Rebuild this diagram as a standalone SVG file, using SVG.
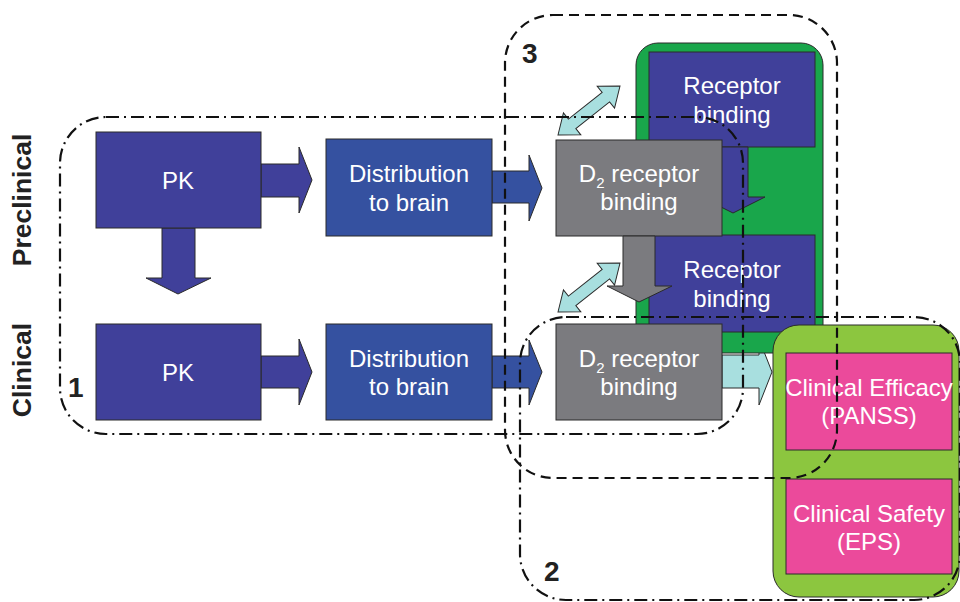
<svg xmlns="http://www.w3.org/2000/svg" width="960" height="602" viewBox="0 0 960 602">
  <style>
    .box { stroke: #2a2a2a; stroke-width: 1; }
    .pk { fill: #40409a; }
    .dist { fill: #3551a0; }
    .d2 { fill: #7b7b7f; }
    .rec { fill: #40409a; }
    .pink { fill: #eb4a9b; }
    .lb { fill: #a8dfdf; stroke: #2a2a2a; stroke-width: 1; }
    .txt { font-family: "Liberation Sans", Arial, sans-serif; font-size: 24px; fill: #ffffff; text-anchor: middle; }
    .sub { font-size: 15px; }
    .side { font-family: "Liberation Sans", Arial, sans-serif; font-size: 26.5px; font-weight: bold; fill: #222222; text-anchor: middle; }
    .num { font-family: "Liberation Sans", Arial, sans-serif; font-size: 28px; font-weight: bold; fill: #222222; }
    .dashdot { fill: none; stroke: #111111; stroke-width: 2.2; stroke-dasharray: 13 5 2 5; }
    .dashed { fill: none; stroke: #111111; stroke-width: 2.2; stroke-dasharray: 10 6; }
  </style>

  <!-- side labels -->
  <text class="side" transform="translate(31,200) rotate(-90)">Preclinical</text>
  <text class="side" transform="translate(31,370) rotate(-90)">Clinical</text>

  <g id="connectors">
    <!-- PK -> Distribution (preclinical) -->
    <polygon class="box pk" points="261,164 299,164 299,147 312,180 299,213 299,197 261,197"/>
    <!-- PK -> Distribution (clinical) -->
    <polygon class="box pk" points="261,356 299,356 299,339 312,372 299,405 299,388 261,388"/>
    <!-- preclinical PK -> clinical PK -->
    <polygon class="box pk" points="162,228 195,228 195,278 211,278 178,294 146,278 162,278"/>
    <!-- Distribution -> D2 binding (preclinical) -->
    <polygon class="box dist" points="492,171 529,171 529,155 542,188 529,221 529,203 492,203"/>
    <!-- Distribution -> D2 binding (clinical) -->
    <polygon class="box dist" points="492,356 529,356 529,340 542,372 529,405 529,388 492,388"/>
    <!-- D2 binding (clinical) -> clinical outcome -->
    <polygon class="lb" points="722,355 759,355 759,339 772,372 759,405 759,388 722,388"/>
    <!-- two-way links to receptor panel -->
    <polygon class="lb" transform="translate(558,135) rotate(-38.3)" points="0,0 18,-14 18,-6 61,-6 61,-14 79,0 61,14 61,6 18,6 18,14"/>
    <polygon class="lb" transform="translate(558,312) rotate(-38.3)" points="0,0 18,-14 18,-6 61,-6 61,-14 79,0 61,14 61,6 18,6 18,14"/>
  </g>

  <g id="receptor-panel">
    <rect x="636" y="43" width="187" height="310" rx="22" fill="#19a64b" class="box"/>
  </g>

  <g id="receptor-binding-pre">
    <rect class="box rec" x="649" y="52" width="166" height="95"/>
    <text class="txt" x="732" y="94">Receptor</text>
    <text class="txt" x="732" y="123">binding</text>
  </g>

  <g id="receptor-binding-clin">
    <rect class="box rec" x="649" y="235" width="166" height="97"/>
    <text class="txt" x="732" y="278">Receptor</text>
    <text class="txt" x="732" y="307">binding</text>
  </g>

  <!-- receptor binding (preclinical) -> down -->
  <polygon class="box rec" points="718,147 748,147 748,197 765,197 733,213 701,197 718,197"/>

  <g id="pk-pre">
    <rect class="box pk" x="96" y="132" width="165" height="96"/>
    <text class="txt" x="178" y="189">PK</text>
  </g>
  <g id="pk-clin">
    <rect class="box pk" x="96" y="324" width="165" height="96"/>
    <text class="txt" x="178" y="381">PK</text>
  </g>

  <g id="dist-pre">
    <rect class="box dist" x="326" y="139" width="166" height="97"/>
    <text class="txt" x="409" y="182">Distribution</text>
    <text class="txt" x="409" y="211">to brain</text>
  </g>
  <g id="dist-clin">
    <rect class="box dist" x="326" y="324" width="166" height="96"/>
    <text class="txt" x="409" y="367">Distribution</text>
    <text class="txt" x="409" y="395">to brain</text>
  </g>

  <g id="d2-pre">
    <rect class="box d2" x="556" y="140" width="166" height="96"/>
    <text class="txt" x="639" y="182">D<tspan class="sub" dy="6">2</tspan><tspan dy="-6"> receptor</tspan></text>
    <text class="txt" x="639" y="210">binding</text>
  </g>

  <!-- D2 binding preclinical -> clinical -->
  <polygon class="box d2" points="623,236 655,236 655,286 672,286 639,302 607,286 623,286"/>

  <g id="d2-clin">
    <rect class="box d2" x="556" y="324" width="166" height="96"/>
    <text class="txt" x="639" y="367">D<tspan class="sub" dy="6">2</tspan><tspan dy="-6"> receptor</tspan></text>
    <text class="txt" x="639" y="395">binding</text>
  </g>

  <g id="clinical-outcome">
    <rect class="box" x="773" y="325" width="186" height="272" rx="26" fill="#8cc63f"/>
  </g>
  <g id="efficacy">
    <rect class="box pink" x="786" y="353" width="166" height="97"/>
    <text class="txt" x="869" y="396">Clinical Efficacy</text>
    <text class="txt" x="869" y="424">(PANSS)</text>
  </g>
  <g id="safety">
    <rect class="box pink" x="786" y="479" width="166" height="95"/>
    <text class="txt" x="869" y="522">Clinical Safety</text>
    <text class="txt" x="869" y="550">(EPS)</text>
  </g>

  <!-- grouping outlines -->
  <g id="region-1">
    <rect class="dashdot" x="60" y="117" width="683" height="317" rx="46"/>
    <text class="num" x="68" y="397">1</text>
  </g>
  <g id="region-3">
    <rect class="dashed" x="505" y="15" width="332" height="463" rx="48"/>
    <text class="num" x="522" y="63">3</text>
  </g>
  <g id="region-2">
    <rect class="dashdot" x="520" y="317" width="440" height="283" rx="46"/>
    <text class="num" x="544" y="581">2</text>
  </g>
</svg>
